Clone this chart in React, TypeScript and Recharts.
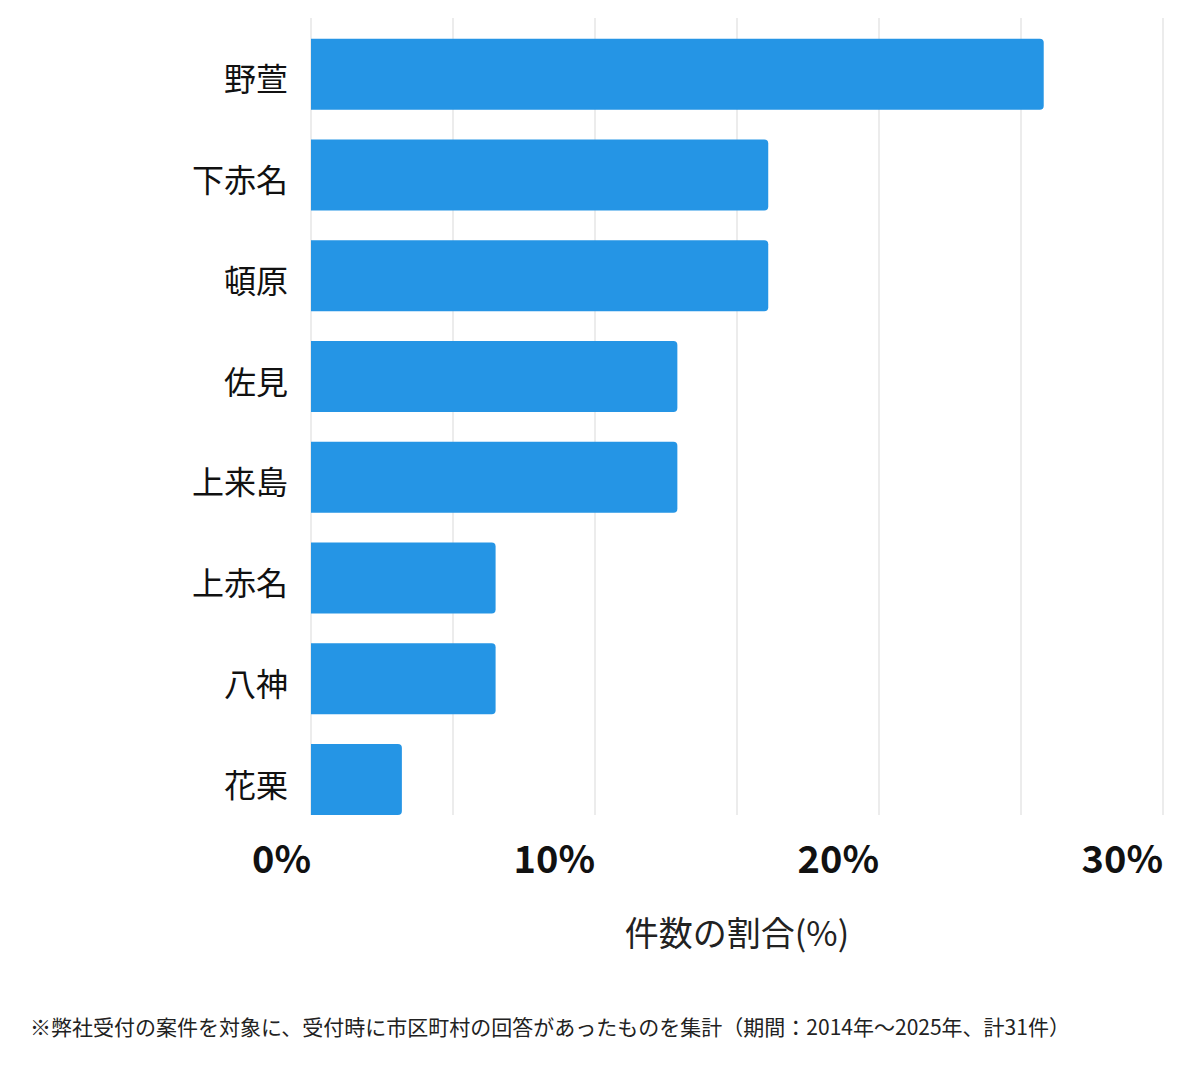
import React from 'react';
import { BarChart, Bar, XAxis, YAxis, CartesianGrid } from 'recharts';

const categories = ['野萱', '下赤名', '頓原', '佐見', '上来島', '上赤名', '八神', '花栗'];
const shares = [25.8, 16.1, 16.1, 12.9, 12.9, 6.5, 6.5, 3.2];
const xTicks = [0, 5, 10, 15, 20, 25, 30];
const xTickLabels: Record<number, string> = { 0: '0%', 10: '10%', 20: '20%', 30: '30%' };
const xAxisTitle = '件数の割合(%)';
const footnote = '※弊社受付の案件を対象に、受付時に市区町村の回答があったものを集計（期間：2014年～2025年、計31件）';

const data = categories.map((name, i) => ({ name, value: shares[i] }));

const FONT = "'Noto Sans CJK JP', 'Noto Sans', sans-serif";

const XTick = (props: any) => {
  const { x, y, payload } = props;
  const label = xTickLabels[payload.value] ?? '';
  return (
    <text x={x} y={y} dy={35} textAnchor="end" fontSize={38} fontWeight={700} fill="#111" fontFamily={FONT}>
      {label}
    </text>
  );
};

const YTick = (props: any) => {
  const { x, y, payload } = props;
  return (
    <text x={x} y={y} dy={17} textAnchor="end" fontSize={32} fill="#111" fontFamily={FONT}>
      {payload.value}
    </text>
  );
};

const GridLine = (props: any) => {
  const { x1, x2, y1, y2 } = props;
  return <line x1={x1} x2={x2} y1={y1 - 6} y2={y2 - 15} stroke="#d9d9d9" strokeWidth={1} />;
};

export default function App() {
  return (
    <div style={{ position: 'absolute', left: 0, top: 0, width: 1200, height: 1069, background: '#fff', fontFamily: FONT }}>
      <BarChart
        width={1200}
        height={1000}
        data={data}
        layout="vertical"
        margin={{ top: 24, right: 37, left: 0, bottom: 45 }}
        barCategoryGap="14.7%"
      >
        <CartesianGrid horizontal={false} vertical={GridLine} />
        <XAxis
          type="number"
          domain={[0, 30]}
          ticks={xTicks}
          tick={XTick}
          axisLine={false}
          tickLine={false}
          height={125}
          interval={0}
          label={{ value: xAxisTitle, position: 'insideBottom', offset: 9, fontSize: 34, fill: '#222', fontFamily: FONT }}
        />
        <YAxis
          type="category"
          dataKey="name"
          width={311}
          tick={YTick}
          axisLine={false}
          tickLine={false}
          tickMargin={17}
          interval={0}
        />
        <Bar dataKey="value" fill="#2595E5" radius={[0, 4, 4, 0]} isAnimationActive={false} />
      </BarChart>
      <div style={{ position: 'absolute', left: 30, top: 1011, fontSize: 21, color: '#222', whiteSpace: 'nowrap' }}>
        {footnote}
      </div>
    </div>
  );
}
